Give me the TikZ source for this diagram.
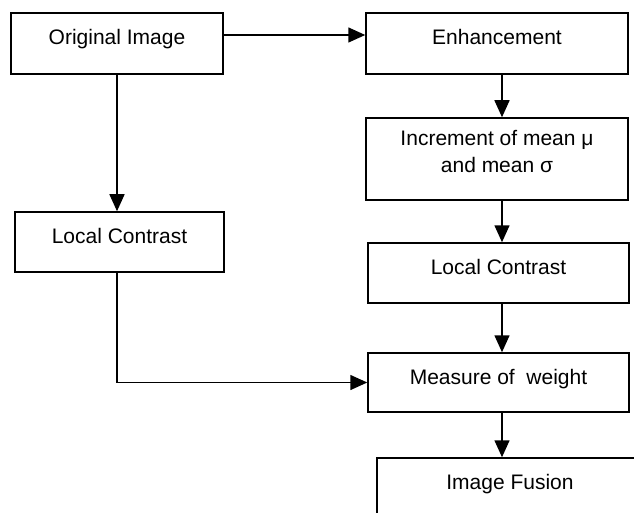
\documentclass[tikz,border=0pt]{standalone}
\usepackage{fontspec}
\setmainfont{Liberation Sans}
\usetikzlibrary{arrows.meta}
\tikzset{every node/.style={rectangle,draw,line width=1.5pt,inner sep=0pt,text height=16pt,text depth=13pt}}
\tikzset{t/.style={align=center,text height=43pt,text depth=15pt}}
\tikzset{>={Triangle[length=17pt,width=15pt]}}

\begin{document}
\begin{tikzpicture}[x=1pt,y=-1pt,font=\fontsize{21}{27}\selectfont,line width=1.5pt]
      \useasboundingbox (0,0) rectangle (634,513);
      \clip (0,0) rectangle (634,513);
      \node[minimum width=212pt,minimum height=61pt] (orig) at (117,43.5) {Original Image};
      \node[minimum width=262pt,minimum height=61pt] (enh) at (497,43.5) {Enhancement};
      \node[t,minimum width=262pt,minimum height=82pt] (inc) at (497,159) {Increment of mean μ\\and mean σ};
      \node[minimum width=209pt,minimum height=60pt] (lc1) at (119.5,242) {Local Contrast};
      \node[minimum width=261pt,minimum height=60pt] (lc2) at (498.5,273) {Local Contrast};
      \node[minimum width=261pt,minimum height=59pt] (wt) at (498.5,382.5) {Measure of\ \ weight};
      \node[minimum width=266pt,minimum height=60pt] (fus) at (510,488) {Image Fusion};
        \draw[->] ([yshift=8.5pt]orig.east) -- ([yshift=8.5pt]enh.west);
        \draw[->] ([xshift=5pt]enh.south) -- ([xshift=5pt]inc.north);
        \draw[->] ([xshift=5pt]inc.south) -- ([xshift=5pt]inc.south |- lc2.north);
        \draw[->] ([xshift=5pt]inc.south |- lc2.south) -- ([xshift=5pt]inc.south |- wt.north);
        \draw[->] ([xshift=5pt]inc.south |- wt.south) -- ([xshift=5pt]inc.south |- fus.north);
        \draw[->] (orig.south) -- (orig.south |- lc1.north);
        \draw[->] (orig.south |- lc1.south) |- (wt.west);
    \end{tikzpicture}
\end{document}
